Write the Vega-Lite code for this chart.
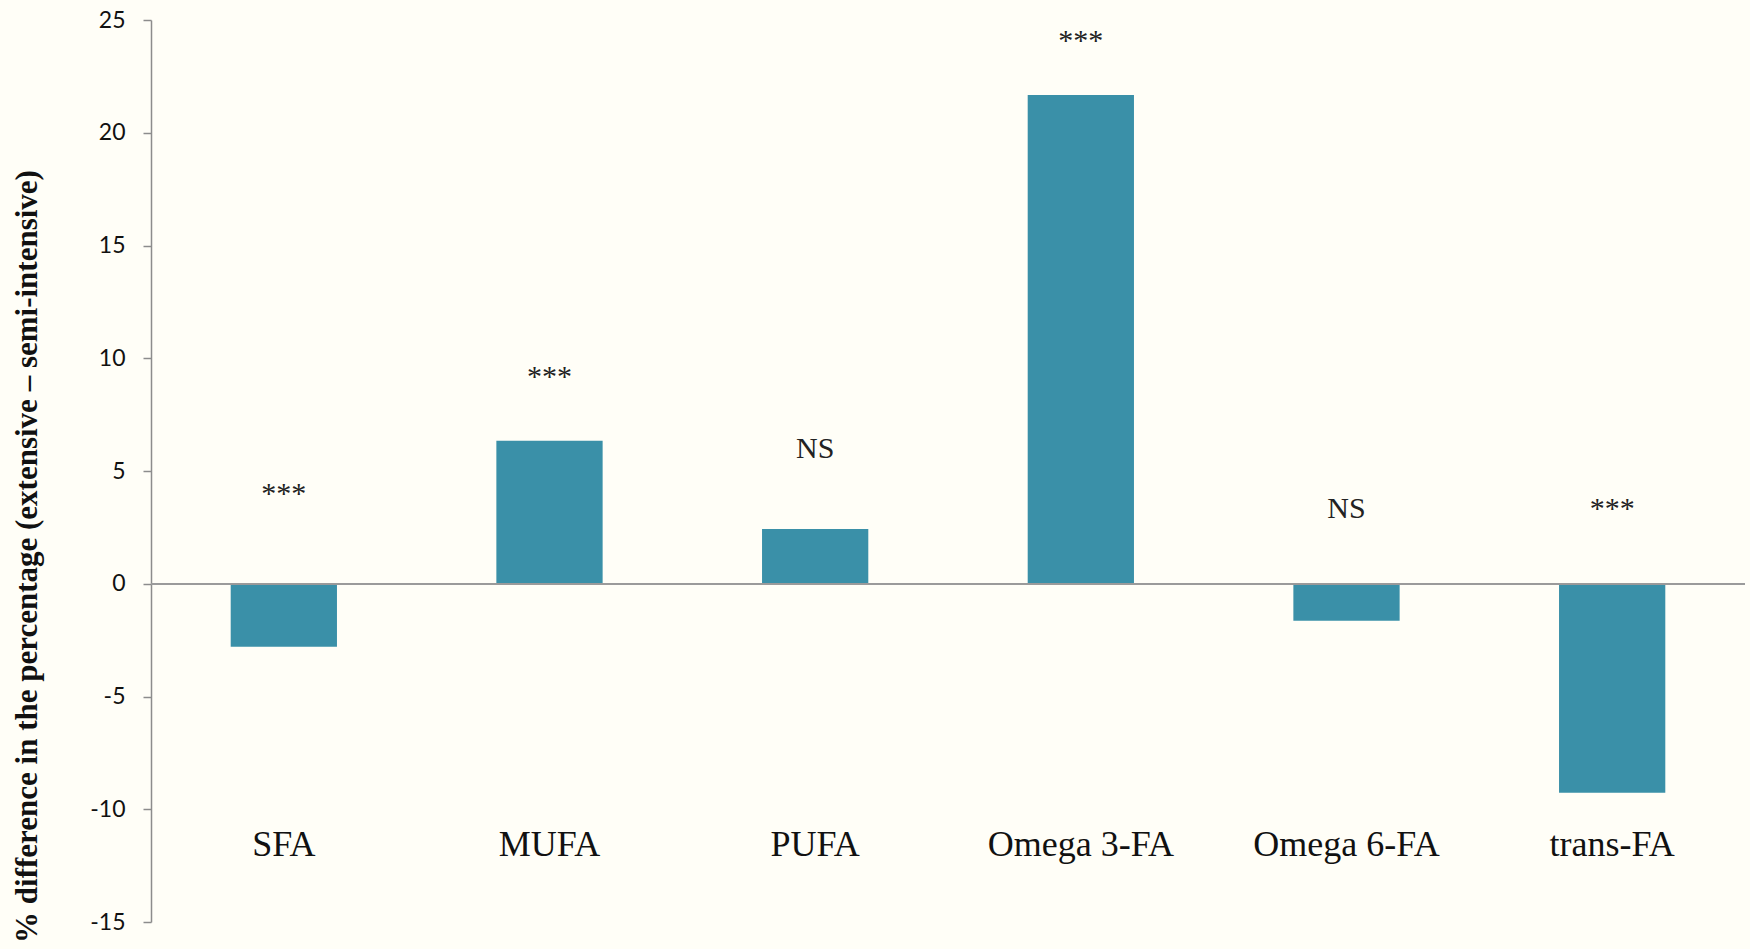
{
  "$schema": "https://vega.github.io/schema/vega-lite/v6.json",
  "width": 1594,
  "height": 902,
  "autosize": {"type": "none"},
  "padding": {"left": 151, "top": 20, "right": 5, "bottom": 27},
  "background": "#FFFEF7",
  "config": {"view": {"stroke": null}},
  "data": {
    "values": [
      {"fa": "SFA", "diff": -2.79, "sig": "***", "sig_at": 3.58},
      {"fa": "MUFA", "diff": 6.34, "sig": "***", "sig_at": 8.77},
      {"fa": "PUFA", "diff": 2.43, "sig": "NS", "sig_at": 5.57},
      {"fa": "Omega 3-FA", "diff": 21.67, "sig": "***", "sig_at": 23.66},
      {"fa": "Omega 6-FA", "diff": -1.64, "sig": "NS", "sig_at": 2.91},
      {"fa": "trans-FA", "diff": -9.27, "sig": "***", "sig_at": 2.91}
    ]
  },
  "layer": [
    {
      "mark": {"type": "bar", "color": "#3A90A8"},
      "encoding": {
        "x": {
          "field": "fa",
          "type": "nominal",
          "sort": null,
          "scale": {"paddingInner": 0.6, "paddingOuter": 0.3},
          "axis": null
        },
        "y": {
          "field": "diff",
          "type": "quantitative",
          "scale": {"domain": [-15, 25], "nice": false, "zero": false},
          "axis": {
            "values": [-15, -10, -5, 0, 5, 10, 15, 20, 25],
            "labelExpr": "datum.value < 0 ? '-' + abs(datum.value) : '' + datum.value",
            "grid": false,
            "domainColor": "#8c8c8c",
            "domainWidth": 1.5,
            "tickColor": "#8c8c8c",
            "tickWidth": 1.5,
            "tickSize": 8,
            "labelFont": "Lato",
            "labelFontSize": 23,
            "labelColor": "#111111",
            "labelPadding": 18,
            "labelFlush": false,
            "labelOverlap": false,
            "title": "% difference in the percentage (extensive – semi-intensive)",
            "titleFont": "Liberation Serif",
            "titleFontSize": 31,
            "titleFontWeight": "bold",
            "titleColor": "#111111",
            "titleAngle": -90,
            "titleX": -115,
            "titleY": 536,
            "titleAlign": "center",
            "titleBaseline": "alphabetic"
          }
        }
      }
    },
    {
      "mark": {"type": "rule", "color": "#9a9a9a", "strokeWidth": 1.6},
      "encoding": {"y": {"datum": 0, "type": "quantitative"}}
    },
    {
      "mark": {
        "type": "text",
        "font": "Liberation Serif",
        "fontSize": 36,
        "color": "#111111",
        "baseline": "alphabetic",
        "align": "center"
      },
      "encoding": {
        "x": {"field": "fa", "type": "nominal", "sort": null},
        "y": {"datum": -12.08, "type": "quantitative"},
        "text": {"field": "fa"}
      }
    },
    {
      "mark": {
        "type": "text",
        "font": "Liberation Serif",
        "fontSize": 30,
        "color": "#222222",
        "baseline": "alphabetic",
        "align": "center"
      },
      "encoding": {
        "x": {"field": "fa", "type": "nominal", "sort": null},
        "y": {"field": "sig_at", "type": "quantitative"},
        "text": {"field": "sig"}
      }
    }
  ]
}
